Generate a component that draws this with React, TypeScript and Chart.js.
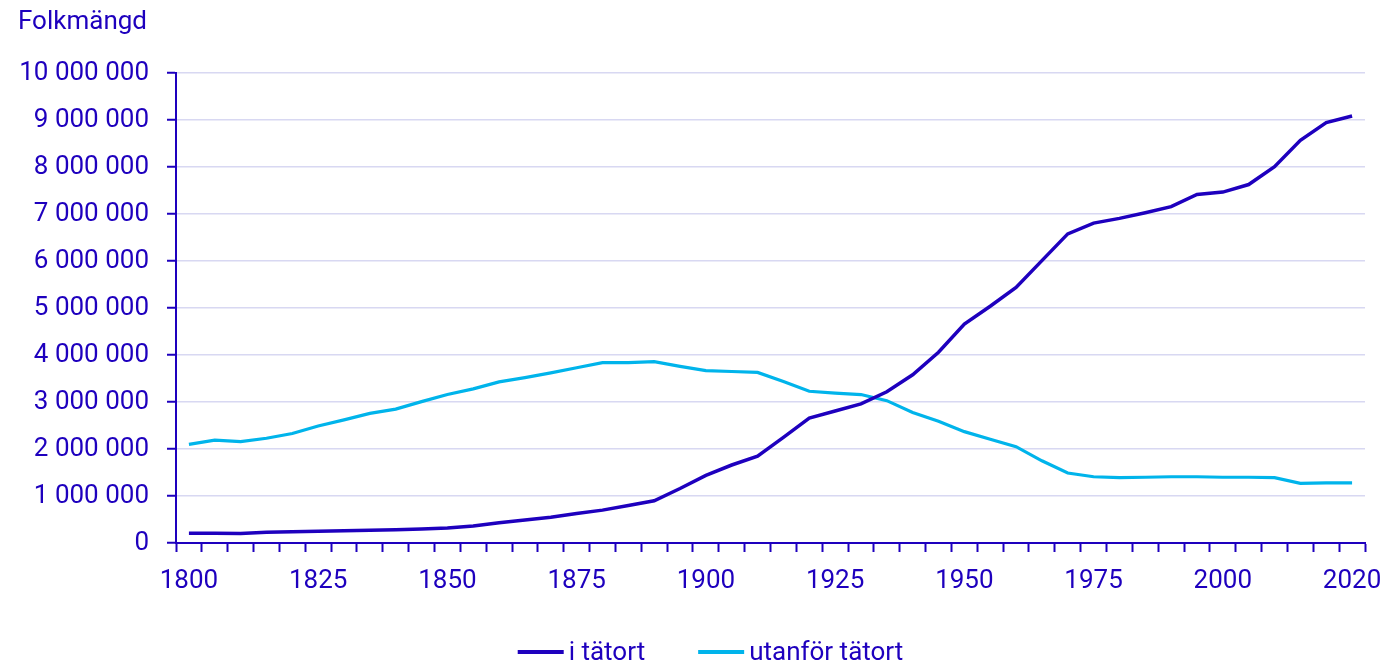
import React, { useEffect, useRef } from 'react';
import { Chart, registerables } from 'chart.js';

Chart.register(...registerables);

// Categories (years)
const years: number[] = [
  1800, 1805, 1810, 1815, 1820, 1825, 1830, 1835, 1840, 1845,
  1850, 1855, 1860, 1865, 1870, 1875, 1880, 1885, 1890, 1895,
  1900, 1905, 1910, 1915, 1920, 1925, 1930, 1935, 1940, 1945,
  1950, 1955, 1960, 1965, 1970, 1975, 1980, 1985, 1990, 1995,
  2000, 2005, 2010, 2015, 2018, 2020,
];

// Series: population in urban areas (i tätort)
const iTatort: number[] = [
  210000, 210000, 200000, 230000, 240000, 250000, 260000, 270000, 280000, 300000,
  320000, 360000, 430000, 490000, 550000, 630000, 700000, 800000, 900000, 1160000,
  1440000, 1660000, 1850000, 2250000, 2660000, 2810000, 2960000, 3220000, 3580000, 4060000,
  4660000, 5040000, 5440000, 6010000, 6580000, 6810000, 6910000, 7030000, 7160000, 7420000,
  7470000, 7630000, 8010000, 8570000, 8950000, 9090000,
];

// Series: population outside urban areas (utanför tätort)
const utanforTatort: number[] = [
  2100000, 2190000, 2160000, 2230000, 2330000, 2490000, 2620000, 2760000, 2850000, 3010000,
  3160000, 3280000, 3430000, 3520000, 3620000, 3730000, 3840000, 3840000, 3860000, 3760000,
  3670000, 3650000, 3630000, 3440000, 3230000, 3190000, 3160000, 3030000, 2780000, 2590000,
  2370000, 2210000, 2050000, 1750000, 1490000, 1410000, 1390000, 1400000, 1410000, 1410000,
  1400000, 1400000, 1390000, 1270000, 1280000, 1280000,
];

// Years that get an x-axis tick label
const xLabelYears: number[] = [1800, 1825, 1850, 1875, 1900, 1925, 1950, 1975, 2000, 2020];

// Y-axis range
const yMin = 0;
const yMax = 10000000;
const yStep = 1000000;

const seriesLabels: string[] = ['i tätort', 'utanför tätort'];
const yTitle = 'Folkmängd';

const DARK = '#1e00be';
const LIGHT = '#00b4eb';
const GRID = '#d8d8f2';
const FONT = 'Roboto';
const FONT_SIZE = 26;

const fmt = (v: number) => String(v).replace(/\B(?=(\d{3})+(?!\d))/g, ' ');

const bottomLegend = {
  id: 'bottomLegend',
  afterDraw(chart: any) {
    const ctx = chart.ctx as CanvasRenderingContext2D;
    ctx.save();
    ctx.font = `${FONT_SIZE}px ${FONT}`;
    const lineW = 46;
    const gapText = 5;
    const gapItem = 53;
    const items = chart.data.datasets.map((ds: any) => ({
      label: ds.label as string,
      color: ds.borderColor as string,
      w: ctx.measureText(ds.label).width,
    }));
    const total =
      items.reduce((s: number, it: any) => s + lineW + gapText + it.w, 0) +
      gapItem * (items.length - 1);
    let x = 710.5 - total / 2;
    const yLine = 652;
    const yText = 660;
    items.forEach((it: any) => {
      ctx.fillStyle = it.color;
      ctx.fillRect(x, yLine - 2, lineW, 4);
      x += lineW + gapText;
      ctx.fillStyle = DARK;
      ctx.textBaseline = 'alphabetic';
      ctx.textAlign = 'left';
      ctx.fillText(it.label, x, yText);
      x += it.w + gapItem;
    });
    ctx.restore();
  },
};

export default function App() {
  const canvasRef = useRef<HTMLCanvasElement | null>(null);

  useEffect(() => {
    if (!canvasRef.current) return;
    Chart.defaults.font.family = FONT;
    const tickFont = { family: FONT, size: FONT_SIZE, weight: 'normal' as const };
    const chart = new Chart(canvasRef.current, {
      type: 'line',
      data: {
        labels: years.map(String),
        datasets: [
          {
            label: seriesLabels[0],
            data: iTatort,
            borderColor: DARK,
            backgroundColor: DARK,
            borderWidth: 3.5,
            pointRadius: 0,
            tension: 0,
          },
          {
            label: seriesLabels[1],
            data: utanforTatort,
            borderColor: LIGHT,
            backgroundColor: LIGHT,
            borderWidth: 3.2,
            pointRadius: 0,
            tension: 0,
          },
        ],
      },
      options: {
        animation: false,
        responsive: true,
        maintainAspectRatio: false,
        layout: { padding: { left: 18, right: 22, top: 0, bottom: 73 } },
        plugins: {
          legend: { display: false },
          tooltip: { enabled: false },
          title: {
            display: true,
            text: yTitle,
            align: 'start',
            color: DARK,
            font: tickFont,
            padding: { top: 7, bottom: 35 },
          },
        },
        scales: {
          x: {
            type: 'category',
            offset: true,
            grid: {
              display: true,
              drawOnChartArea: false,
              drawTicks: true,
              tickLength: 9,
              tickColor: DARK,
              tickWidth: 2,
              offset: true,
            },
            border: { display: true, color: DARK, width: 2 },
            ticks: {
              autoSkip: false,
              maxRotation: 0,
              minRotation: 0,
              color: DARK,
              font: tickFont,
              padding: 14,
              callback: (_v: any, idx: number) =>
                xLabelYears.includes(years[idx]) ? String(years[idx]) : '',
            },
            afterFit: (s: any) => {
              s.height = 49;
              s.paddingLeft = 0;
              s.paddingRight = 0;
            },
          },
          y: {
            min: yMin,
            max: yMax,
            ticks: {
              stepSize: yStep,
              color: DARK,
              font: tickFont,
              padding: 18,
              callback: (v: any) => fmt(Number(v)),
            },
            grid: {
              color: GRID,
              lineWidth: 1.5,
              tickColor: DARK,
              tickLength: 9,
              tickWidth: 2,
            },
            border: { display: true, color: DARK, width: 2 },
            afterFit: (s: any) => {
              s.width = 158;
            },
          },
        },
      },
      plugins: [bottomLegend],
    });
    return () => chart.destroy();
  }, []);

  return (
    <div style={{ position: 'absolute', left: 0, top: 0, width: 1387, height: 665 }}>
      <canvas ref={canvasRef} />
    </div>
  );
}
